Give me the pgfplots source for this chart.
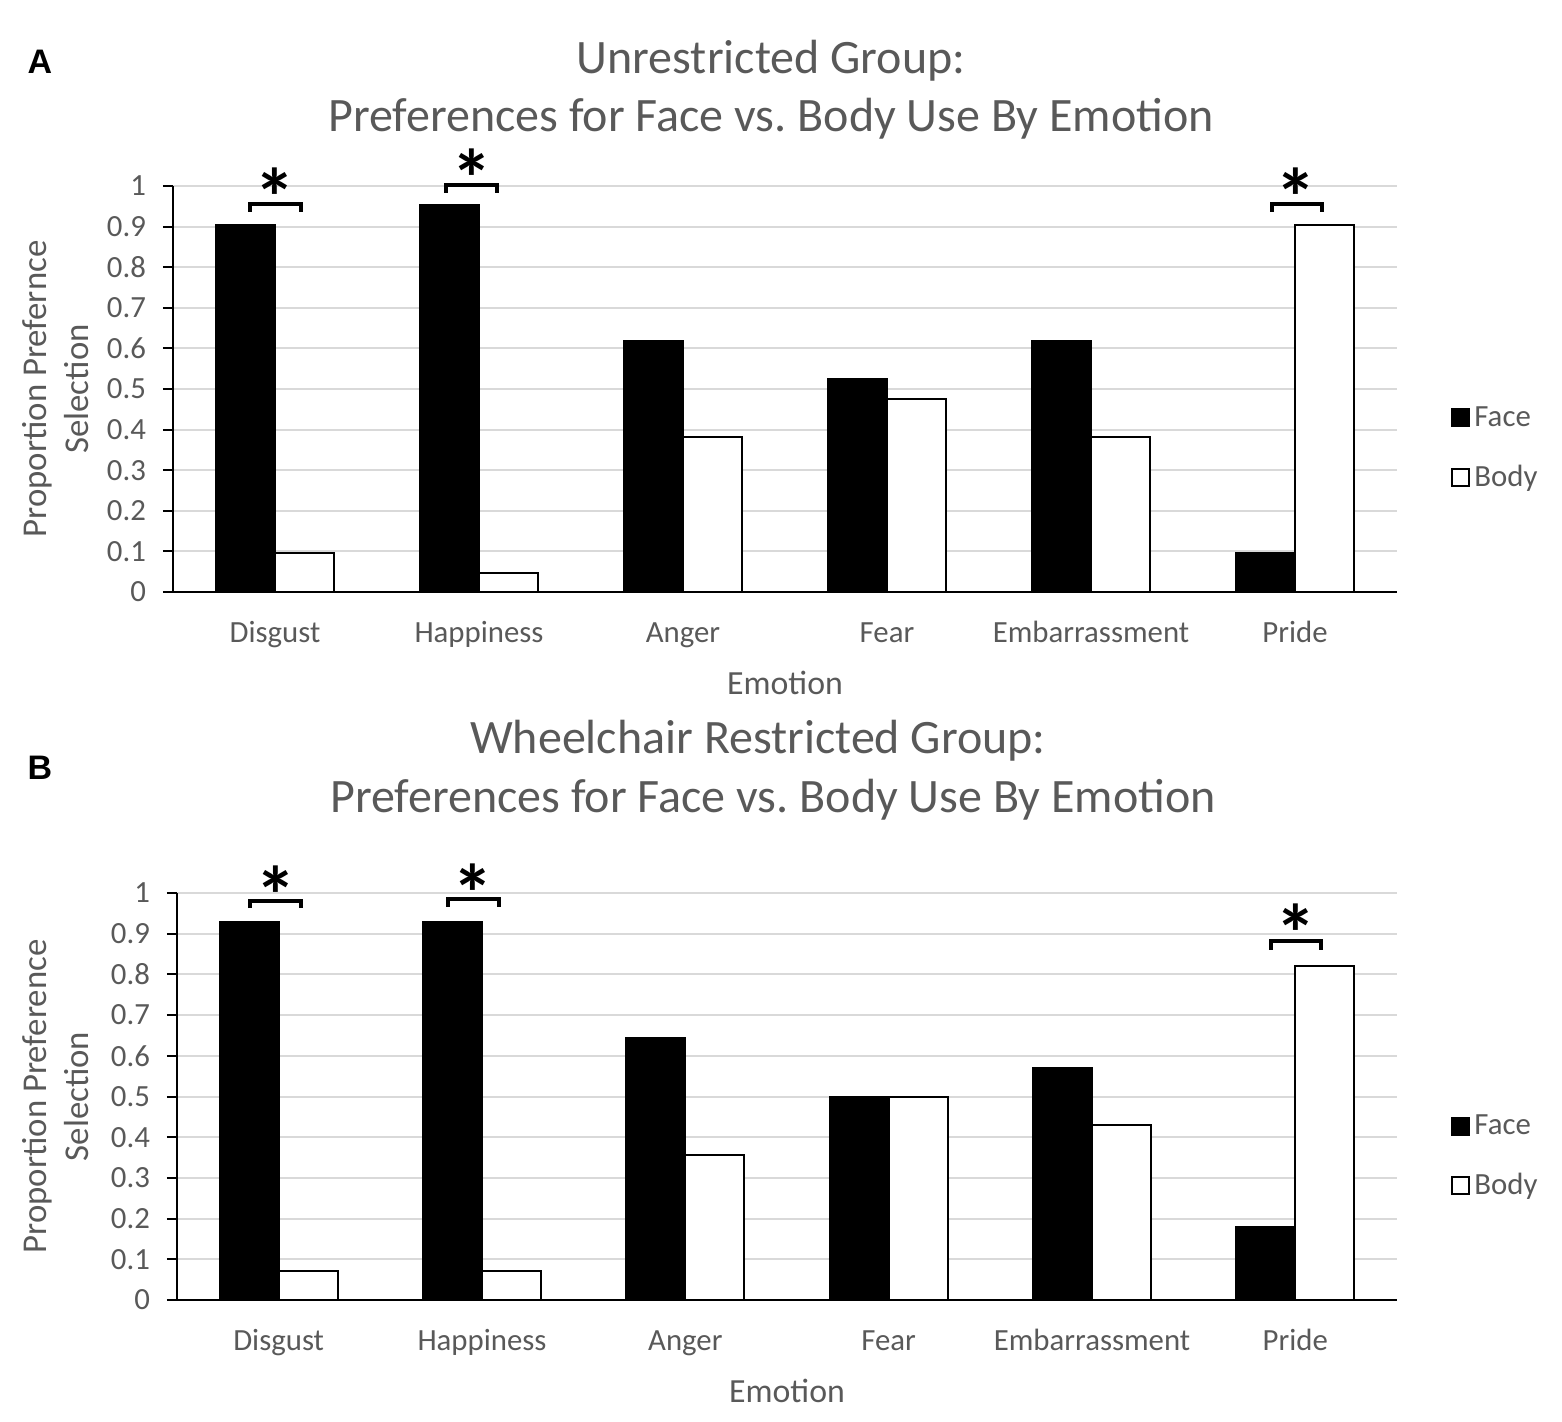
\documentclass[border=0pt]{standalone}
\usepackage{fontspec}
\setmainfont{Carlito}
\newfontfamily\lsans{Liberation Sans}
\usepackage{pgfplots}
\pgfplotsset{compat=1.18}
\definecolor{txt}{HTML}{595959}
\definecolor{grd}{HTML}{D9D9D9}
\tikzset{star/.style={font=\bfseries\fontsize{41}{41}\selectfont, anchor=north, inner sep=0pt, yshift=7pt}}
\pgfplotsset{
  emo/.style={
    scale only axis, clip=false,
    xmin=-0.5, xmax=5.5, ymin=0, ymax=1,
    ybar=0pt, bar width=29.5pt,
    axis x line*=bottom, axis y line*=left,
    axis line style={black, line width=1pt},
    xtick={0,1,2,3,4,5},
    xticklabels={Disgust,Happiness,Anger,Fear,Embarrassment,Pride},
    x tick style={draw=none},
    ytick={0,0.1,0.2,0.3,0.4,0.5,0.6,0.7,0.8,0.9,1},
    yticklabels={0,0.1,0.2,0.3,0.4,0.5,0.6,0.7,0.8,0.9,1},
    y tick style={black, line width=1pt},
    tick align=outside, major tick length=5pt,
    ymajorgrids, major grid style={grd, line width=1pt},
    ticklabel style={font=\fontsize{15.4}{18}\selectfont, text=txt},
    xticklabel style={anchor=base, yshift=-20pt},
    yticklabel style={xshift=-5pt},
    xlabel={Emotion},
    xlabel style={at={(axis description cs:0.5,0)}, anchor=center, yshift=-45.5pt,
      font=\fontsize{16.9}{21}\selectfont, text=txt},
    ylabel style={align=center, anchor=center,
      font=\fontsize{17.4}{21}\selectfont, text=txt},
    legend cell align=left,
    legend style={draw=none, fill=none, anchor=west, xshift=27pt, inner sep=0pt,
      row sep=14pt, font=\fontsize{15.4}{18}\selectfont, text=txt},
    legend image code/.code={\draw[#1, line width=1pt] (0pt,-4.25pt) rectangle (8.5pt,4.25pt);},
  },
  facebar/.style={fill=black, draw=black, line width=1pt},
  bodybar/.style={fill=white, draw=black, line width=1pt},
}
\begin{document}
\frenchspacing
\begin{tikzpicture}
\useasboundingbox (0,0) rectangle (781pt,710.5pt);
\node[font=\lsans\bfseries\fontsize{17}{17}\selectfont] at (20pt,679.5pt) {A};
\node[font=\lsans\bfseries\fontsize{17}{17}\selectfont] at (20pt,326.5pt) {B};
\node[font=\fontsize{24}{29}\selectfont, text=txt, anchor=base] at (385.5pt,673.8pt) {Unrestricted Group:};
\node[font=\fontsize{24}{29}\selectfont, text=txt, anchor=base] at (385.5pt,644.8pt) {Preferences for Face vs. Body Use By Emotion};
\node[font=\fontsize{24}{29}\selectfont, text=txt, anchor=base] at (379pt,334pt) {Wheelchair Restricted Group:};
\node[font=\fontsize{24}{29}\selectfont, text=txt, anchor=base] at (386.5pt,304.5pt) {Preferences for Face vs. Body Use By Emotion};

% Panel A
\begin{axis}[emo, at={(86.5pt,414.5pt)}, anchor=south west, width=612pt, height=203pt,
  ylabel={Proportion Prefernce\\Selection},
  ylabel style={at={(axis description cs:-0.0956,0.5)}},
  legend style={at={(axis description cs:1,0.355)}}]
\addplot[facebar] coordinates {(0,0.905) (1,0.952) (2,0.619) (3,0.524) (4,0.619) (5,0.095)};
\addplot[bodybar] coordinates {(0,0.095) (1,0.048) (2,0.381) (3,0.476) (4,0.381) (5,0.905)};
\legend{Face,Body}
\draw[line width=2pt] (axis cs:-0.125,0.936) |- (axis cs:0.125,0.956) -- (axis cs:0.125,0.936);
\draw[line width=2pt] (axis cs:0.838,0.983) |- (axis cs:1.088,1.002) -- (axis cs:1.088,0.983);
\draw[line width=2pt] (axis cs:4.887,0.936) |- (axis cs:5.132,0.956) -- (axis cs:5.132,0.936);
\node[star] at (axis cs:0,1.010) {*};
\node[star] at (axis cs:0.966,1.057) {*};
\node[star] at (axis cs:5.005,1.010) {*};
\end{axis}

% Panel B
\begin{axis}[emo, at={(88.5pt,60.5pt)}, anchor=south west, width=610pt, height=203.5pt,
  ylabel={Proportion Preference\\Selection},
  ylabel style={at={(axis description cs:-0.0992,0.5)}},
  legend style={at={(axis description cs:1,0.353)}}]
\addplot[facebar] coordinates {(0,0.929) (1,0.929) (2,0.643) (3,0.500) (4,0.571) (5,0.179)};
\addplot[bodybar] coordinates {(0,0.071) (1,0.071) (2,0.357) (3,0.500) (4,0.429) (5,0.821)};
\legend{Face,Body}
\draw[line width=2pt] (axis cs:-0.143,0.963) |- (axis cs:0.108,0.980) -- (axis cs:0.108,0.963);
\draw[line width=2pt] (axis cs:0.831,0.966) |- (axis cs:1.083,0.985) -- (axis cs:1.083,0.966);
\draw[line width=2pt] (axis cs:4.880,0.860) |- (axis cs:5.127,0.882) -- (axis cs:5.127,0.860);
\node[star] at (axis cs:-0.015,1.034) {*};
\node[star] at (axis cs:0.954,1.039) {*};
\node[star] at (axis cs:5.003,0.941) {*};
\end{axis}
\end{tikzpicture}
\end{document}
